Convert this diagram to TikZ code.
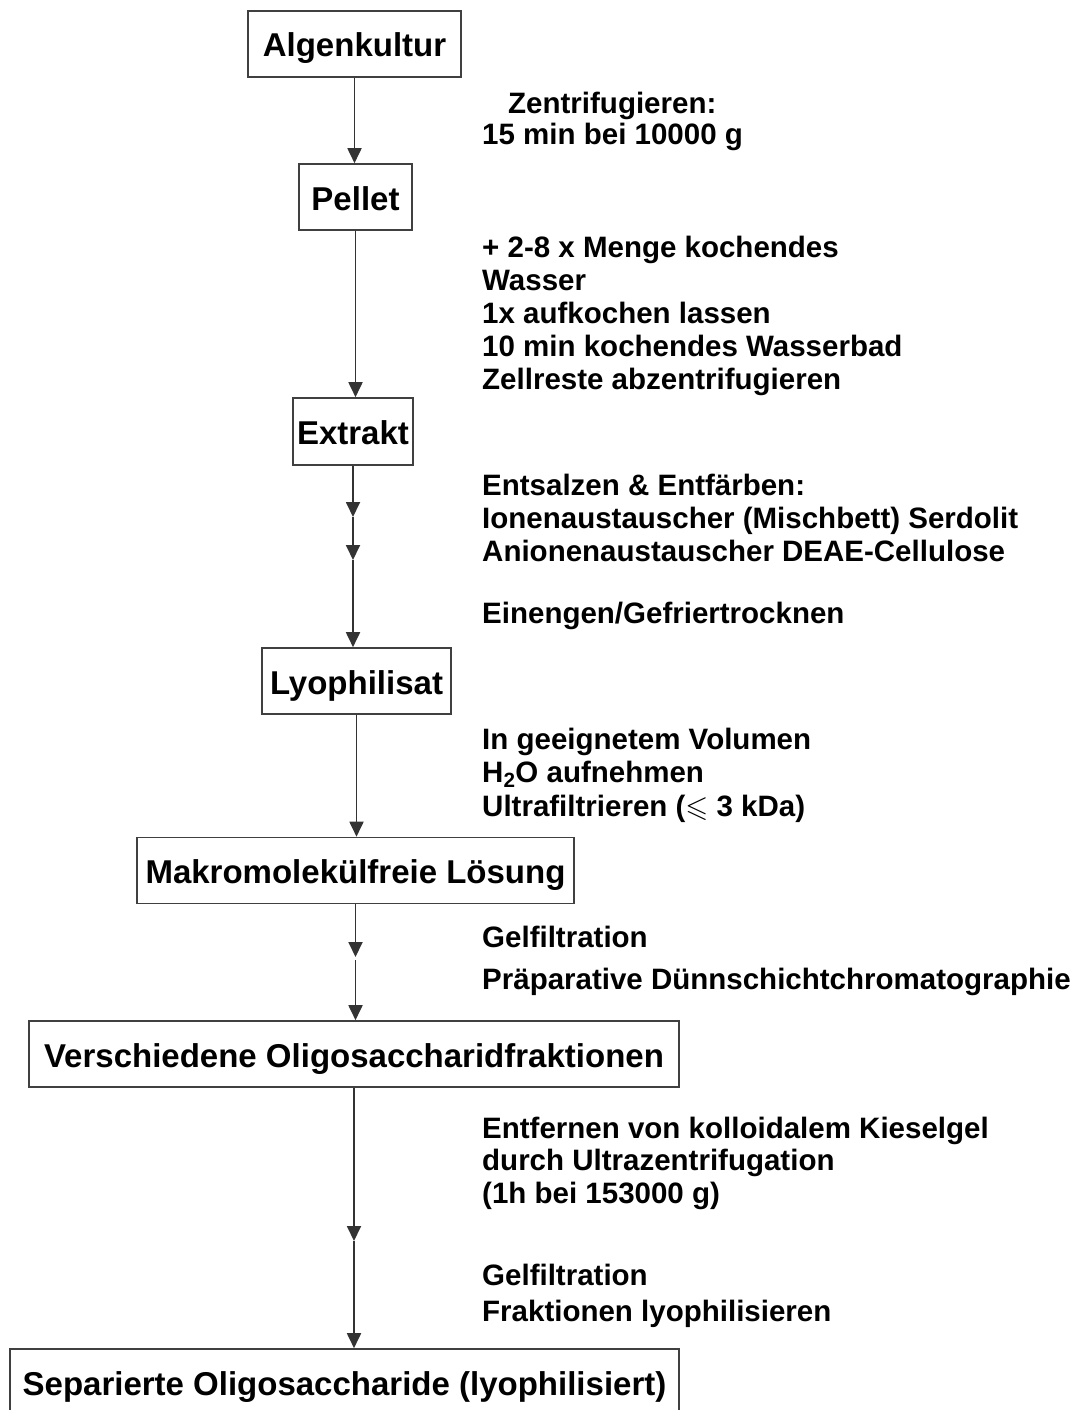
\documentclass[tikz,border=0pt]{standalone}
\usepackage{fontspec}
\setmainfont{Liberation Sans}
\usepackage{amssymb}
\usetikzlibrary{arrows.meta, positioning}

\begin{document}
\begin{tikzpicture}[
      x=1pt, y=-1pt,
      stage/.style={draw=black!75, line width=1.6pt, minimum height=66pt,
        inner sep=0pt, text height=26pt, text depth=0pt,
        font=\fontsize{33}{40}\selectfont\bfseries},
      note/.style={anchor=base west, align=left, inner sep=0pt,
        font=\fontsize{29.5}{33}\selectfont\bfseries},
      flow/.style={draw=black!80, line width=1.8pt,
        -{Triangle[length=15pt, width=14pt]}}
    ]
      \useasboundingbox (0,0) rectangle (1076,1410);

      % Aufarbeitungsschritte
      \node[stage, minimum width=213pt] (kultur) at (354.5,44) {Algenkultur};
      \node[stage, minimum width=113pt] (pellet) at (355.5,197) {Pellet};
      \node[stage, minimum width=120pt, minimum height=67pt] (extrakt) at (353,431.5) {Extrakt};
      \node[stage, minimum width=189pt] (lyo) at (356.5,681) {Lyophilisat};
      \node[stage, minimum width=437pt] (loesung) at (355.5,870.5) {Makromolekülfreie Lösung};
      \node[stage, minimum width=650pt] (fraktionen) at (354,1054) {Verschiedene Oligosaccharidfraktionen};
      \node[stage, minimum width=669pt] (separiert) at (344.5,1382) {Separierte Oligosaccharide (lyophilisiert)};

      % Zwischenpunkte mit Pfeilspitze
      \coordinate (e1) at (extrakt.south |- 0,517);
      \coordinate (e2) at (extrakt.south |- 0,560);
      \coordinate (m1) at (loesung.south |- 0,957);
      \coordinate (f1) at (fraktionen.south |- 0,1241);

      \draw[flow] (kultur.south) -- (kultur.south |- pellet.north);
      \draw[flow] (pellet.south) -- (pellet.south |- extrakt.north);
      \draw[flow] (extrakt.south) -- (e1);
      \draw[flow] (e1) -- (e2);
      \draw[flow] (e2) -- (e2 |- lyo.north);
      \draw[flow] (lyo.south) -- (lyo.south |- loesung.north);
      \draw[flow] (loesung.south) -- (m1);
      \draw[flow] ([yshift=-3pt]m1) -- (m1 |- fraktionen.north);
      \draw[flow] (fraktionen.south) -- (f1);
      \draw[flow] (f1) -- (f1 |- separiert.north);

      % Beschreibungen (Anker liegt auf der Grundlinie der letzten Zeile)
      \node[note] (zentri) at (482,145) {\hspace*{26pt}Zentrifugieren:\\[-1pt]15 min bei 10000 g};
      \node[note] (wasser) at (482,389) {+ 2-8 x Menge kochendes\\Wasser\\1x aufkochen lassen\\10 min kochendes Wasserbad\\Zellreste abzentrifugieren};
      \node[note] (salz) at (482,561) {Entsalzen \& Entfärben:\\Ionenaustauscher (Mischbett) Serdolit\\Anionenaustauscher DEAE-Cellulose};
      \node[note] (einengen) at (482,623) {Einengen/Gefriertrocknen};
      \node[note] (volumen) at (482,816) {In geeignetem Volumen\\H\textsubscript{2}O aufnehmen\\[1pt]Ultrafiltrieren ($\leqslant$ 3 kDa)};
      \node[note] (gel1) at (482,947) {Gelfiltration};
      \node[note] (dc) at (482,989) {Präparative Dünnschichtchromatographie};
      \node[note] (kiesel) at (482,1203) {Entfernen von kolloidalem Kieselgel\\[-1pt]durch Ultrazentrifugation\\(1h bei 153000 g)};
      \node[note] (gel2) at (482,1321) {Gelfiltration\\[3pt]Fraktionen lyophilisieren};
    \end{tikzpicture}
\end{document}
